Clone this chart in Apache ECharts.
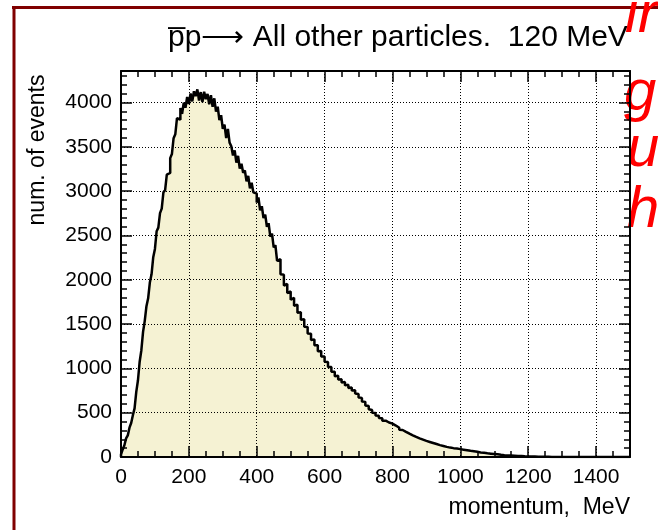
<!DOCTYPE html>
<html>
<head>
<meta charset="utf-8">
<script src="https://cdn.jsdelivr.net/npm/echarts@6/dist/echarts.min.js"></script>
<style>
  html, body { margin: 0; padding: 0; background: #fff; }
  #chart { width: 658px; height: 530px; }
</style>
</head>
<body>
<div id="chart"></div>
<script>
// momentum histogram, 5 MeV bins starting at 0
const binStart = 0;
const binWidth = 5;
const counts = [
  28, 85, 132, 210, 244, 331, 383, 472, 548, 735,
  866, 1075, 1205, 1412, 1536, 1702, 1790, 1968, 2061, 2255,
  2348, 2547, 2588, 2751, 2802, 2986, 3011, 3187, 3205, 3372,
  3418, 3597, 3641, 3822, 3806, 3937, 3872, 3998, 3941, 4062,
  3982, 4101, 4012, 4126, 4071, 4148, 4021, 4117, 4004, 4121,
  4038, 4096, 3979, 4083, 3951, 4047, 3896, 3952, 3801, 3857,
  3702, 3751, 3598, 3702, 3547, 3506, 3402, 3459, 3321, 3398,
  3255, 3309, 3208, 3232, 3110, 3171, 3031, 3094, 2987, 2972,
  2871, 2930, 2784, 2829, 2697, 2735, 2598, 2638, 2486, 2520,
  2365, 2389, 2214, 2232, 2061, 2056, 1935, 1952, 1850, 1868,
  1774, 1796, 1706, 1719, 1628, 1632, 1548, 1553, 1470, 1468,
  1392, 1390, 1321, 1327, 1262, 1260, 1193, 1196, 1133, 1135,
  1075, 1073, 1016, 1015, 962, 963, 912, 917, 873, 876,
  840, 847, 808, 816, 778, 785, 750, 753, 716, 712,
  671, 667, 627, 622, 582, 576, 538, 531, 499, 496,
  468, 466, 439, 436, 410, 410, 390, 389, 373, 376,
  356, 355, 333, 330, 307, 305, 284, 283, 264, 263,
  246, 244, 229, 226, 213, 210, 198, 196, 185, 182,
  172, 170, 161, 158, 149, 146, 137, 134, 126, 124,
  116, 114, 107, 106, 100, 100, 95, 95, 90, 89,
  85, 83, 78, 77, 72, 70, 65, 64, 59, 58,
  53, 52, 48, 47, 43, 42, 39, 38, 35, 34,
  31, 30, 26, 25, 22, 21, 19, 18, 16, 16,
  14, 14, 12, 12, 10, 10, 9, 8, 8, 7,
  7, 6, 5, 5, 4, 4, 3, 3, 3, 2,
  2, 2, 2, 1, 1, 1, 1, 1, 1, 0,
  1, 0, 1, 0, 0, 1, 0, 0, 0, 0,
  0, 0, 0, 0, 0, 0, 0, 0, 0, 0,
  0, 0, 0, 0, 0, 0, 0, 0, 0, 0,
  0, 0, 0, 0, 0, 0, 0, 0, 0, 0
];
const xRange = [0, 1500];
const yRange = [0, 4355];

const title = 'p\u0305p\u27F6 All other particles.  120 MeV';
const xTitle = 'momentum,  MeV';
const yTitle = 'num. of events';
const notes = ['ir', 'g', 'u.', 'h'];

// step outline: each bin from its low edge, plus closing point at last edge
const histData = [[binStart, 0]];
counts.forEach(function (c, i) {
  histData.push([binStart + i * binWidth, c]);
});
histData.push([binStart + counts.length * binWidth, counts[counts.length - 1]]);

const font = 'Liberation Sans';
const frameLine = { show: true, onZero: false, lineStyle: { color: '#000', width: 2 } };
const plain = function (v) { return String(v); };

function majorX(pos, labels) {
  return {
    type: 'value', position: pos, min: xRange[0], max: xRange[1], interval: 200, z: 3,
    axisLine: frameLine,
    axisTick: { show: true, inside: true, length: 11, lineStyle: { color: '#000', width: 1.5 } },
    axisLabel: { show: labels, showMaxLabel: false, margin: 10, fontSize: 21, color: '#000', fontFamily: font, formatter: plain },
    splitLine: { show: labels, lineStyle: { color: '#000', width: 1, type: [1, 2] } }
  };
}
function minorX(pos) {
  return {
    type: 'value', position: pos, min: xRange[0], max: xRange[1], interval: 50, z: 3,
    axisLine: { show: false, onZero: false },
    axisTick: { show: true, inside: true, length: 6, lineStyle: { color: '#000', width: 1.5 } },
    axisLabel: { show: false }, splitLine: { show: false }
  };
}
function majorY(pos, labels) {
  return {
    type: 'value', position: pos, min: yRange[0], max: yRange[1], interval: 500, z: 3,
    axisLine: frameLine,
    axisTick: { show: true, inside: true, length: 11, lineStyle: { color: '#000', width: 1.5 } },
    axisLabel: { show: labels, showMaxLabel: false, margin: 9, fontSize: 21, color: '#000', fontFamily: font, formatter: plain },
    splitLine: { show: labels, lineStyle: { color: '#000', width: 1, type: [1, 2] } }
  };
}
function minorY(pos) {
  return {
    type: 'value', position: pos, min: yRange[0], max: yRange[1], interval: 100, z: 3,
    axisLine: { show: false, onZero: false },
    axisTick: { show: true, inside: true, length: 6, lineStyle: { color: '#000', width: 1.5 } },
    axisLabel: { show: false }, splitLine: { show: false }
  };
}

const noteStyle = { font: 'italic 58px "Liberation Sans"', fill: '#ff0000', verticalAlign: 'middle' };

const chart = echarts.init(document.getElementById('chart'), null, { renderer: 'canvas' });
chart.setOption({
  animation: false,
  backgroundColor: '#fff',
  grid: { left: 121, right: 28, top: 71, bottom: 73 },
  xAxis: [majorX('bottom', true), minorX('bottom'), majorX('top', false), minorX('top')],
  yAxis: [majorY('left', true), minorY('left'), majorY('right', false), minorY('right')],
  series: [{
    type: 'line',
    xAxisIndex: 0,
    yAxisIndex: 0,
    step: 'end',
    symbol: 'none',
    z: 2,
    data: histData,
    lineStyle: { color: '#000', width: 2.5 },
    areaStyle: { color: '#f5f2d3', opacity: 1 }
  }],
  graphic: [
    { type: 'line', shape: { x1: 12, y1: 7.5, x2: 658, y2: 7.5 }, style: { stroke: '#800000', lineWidth: 3 } },
    { type: 'line', shape: { x1: 14, y1: 6, x2: 14, y2: 530 }, style: { stroke: '#800000', lineWidth: 3 } },
    { type: 'text', x: 168, y: 38, style: { text: title, fontSize: 30, fontFamily: font, fill: '#000', align: 'left', verticalAlign: 'middle' } },
    { type: 'text', x: 630, y: 508, style: { text: xTitle, fontSize: 23, fontFamily: font, fill: '#000', align: 'right', verticalAlign: 'middle' } },
    { type: 'text', x: 38, y: 150, rotation: Math.PI / 2, style: { text: yTitle, fontSize: 23, fontFamily: font, fill: '#000', align: 'center', verticalAlign: 'middle' } },
    { type: 'text', x: 625, y: 16, style: Object.assign({ text: notes[0] }, noteStyle) },
    { type: 'text', x: 624, y: 94, style: Object.assign({ text: notes[1] }, noteStyle) },
    { type: 'text', x: 627, y: 150, style: Object.assign({ text: notes[2] }, noteStyle) },
    { type: 'text', x: 627, y: 211, style: Object.assign({ text: notes[3] }, noteStyle) }
  ]
});
</script>
</body>
</html>
